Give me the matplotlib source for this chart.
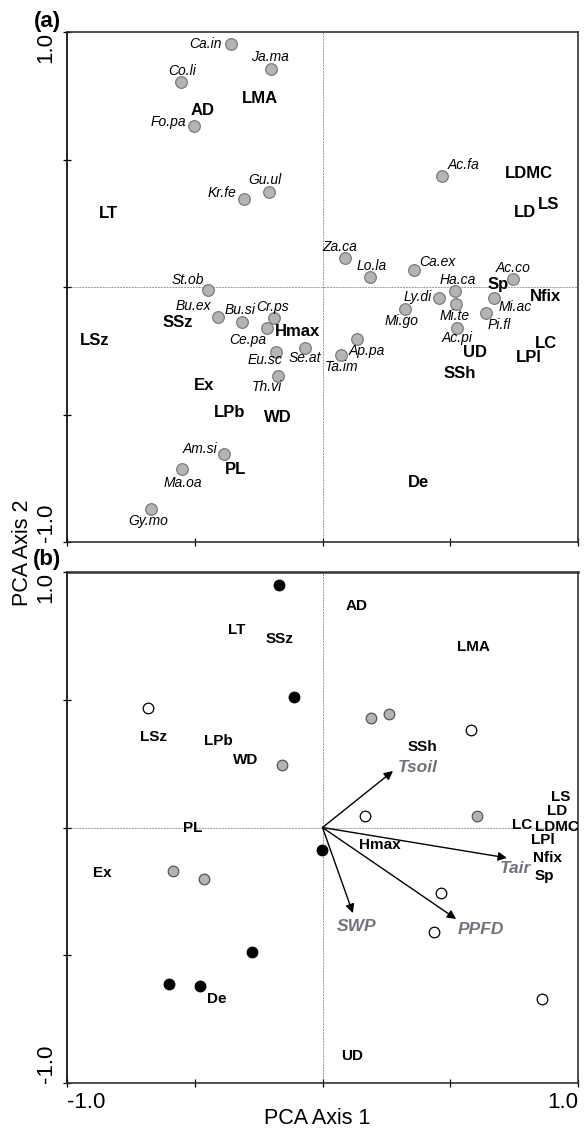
import matplotlib
matplotlib.use('Agg')
import matplotlib.pyplot as plt

plt.rcParams['font.family'] = ['Liberation Sans', 'DejaVu Sans']

# ---- panel (a): species scores ----
sp_names = ['Ca.in', 'Ja.ma', 'Co.li', 'Fo.pa', 'Gu.ul', 'Kr.fe', 'Ac.fa', 'Za.ca',
            'Lo.la', 'Ca.ex', 'Ac.co', 'St.ob', 'Bu.ex', 'Bu.si', 'Cr.ps', 'Ce.pa',
            'Eu.sc', 'Se.at', 'Th.vi', 'Am.si', 'Ma.oa', 'Gy.mo', 'Ha.ca', 'Ly.di',
            'Mi.ac', 'Mi.go', 'Mi.te', 'Pi.fl', 'Ac.pi', 'Ap.pa', 'Ta.im']
sp_x = [-0.358, -0.202, -0.554, -0.503, -0.209, -0.307, 0.468, 0.088,
        0.186, 0.358, 0.746, -0.448, -0.409, -0.315, -0.190, -0.217,
        -0.182, -0.068, -0.174, -0.386, -0.550, -0.671, 0.519, 0.456,
        0.671, 0.323, 0.523, 0.640, 0.526, 0.135, 0.072]
sp_y = [0.953, 0.855, 0.804, 0.631, 0.373, 0.345, 0.435, 0.114,
        0.039, 0.067, 0.031, -0.012, -0.118, -0.137, -0.122, -0.161,
        -0.255, -0.239, -0.349, -0.655, -0.714, -0.871, -0.016, -0.043,
        -0.043, -0.086, -0.067, -0.102, -0.161, -0.204, -0.267]
# label offsets from the point, in pixels
sp_off = [(-26, 0), (-1, 12), (1, 11), (-26, 4), (-4, 12), (-22, 6), (21, 11), (-5, 11),
          (2, 11), (23, 8), (0, 11), (-20, 10), (-25, 11), (-2, 12), (-1, 11), (-19, -12),
          (-11, -8), (0, -10), (-11, -11), (-24, 5), (1, -14), (-3, -12), (3, 11), (-21, 1),
          (21, -9), (-3, -12), (-1, -12), (13, -12), (0, -10), (10, -12), (1, -12)]

trait_a = ['AD', 'LMA', 'LT', 'LDMC', 'LD', 'LS', 'Sp', 'Nfix', 'LSz', 'SSz', 'Hmax',
           'Ex', 'LPb', 'WD', 'PL', 'UD', 'SSh', 'LC', 'LPl', 'De']
trait_a_x = [-0.468, -0.245, -0.839, 0.808, 0.793, 0.883, 0.687, 0.871, -0.890, -0.566, -0.096,
             -0.464, -0.362, -0.174, -0.342, 0.597, 0.538, 0.875, 0.808, 0.374]
trait_a_y = [0.694, 0.741, 0.290, 0.447, 0.294, 0.322, 0.008, -0.039, -0.208, -0.141, -0.176,
             -0.388, -0.494, -0.510, -0.714, -0.255, -0.341, -0.220, -0.275, -0.765]

# ---- panel (b): plot scores, traits and environment ----
black_x = [-0.170, -0.112, -0.002, -0.276, -0.601, -0.479]
black_y = [0.949, 0.511, -0.088, -0.487, -0.613, -0.620]
grey_x = [-0.159, 0.190, 0.260, 0.605, -0.585, -0.464]
grey_y = [0.245, 0.429, 0.444, 0.045, -0.170, -0.202]
white_x = [-0.683, 0.581, 0.166, 0.464, 0.436, 0.859]
white_y = [0.468, 0.382, 0.045, -0.256, -0.409, -0.671]

trait_b = ['AD', 'LMA', 'LT', 'SSz', 'LSz', 'LPb', 'WD', 'SSh', 'LS', 'LD', 'LC', 'LDMC',
           'LPl', 'Nfix', 'Sp', 'PL', 'Ex', 'Hmax', 'De', 'UD']
trait_b_x = [0.135, 0.589, -0.335, -0.170, -0.663, -0.409, -0.299, 0.393, 0.933, 0.918, 0.781, 0.918,
             0.863, 0.879, 0.867, -0.507, -0.860, 0.225, -0.413, 0.115]
trait_b_y = [0.867, 0.706, 0.773, 0.738, 0.354, 0.339, 0.264, 0.315, 0.119, 0.065, 0.010, 0.002,
             -0.049, -0.119, -0.190, -0.002, -0.178, -0.068, -0.671, -0.894]

env_names = ['Tsoil', 'Tair', 'SWP', 'PPFD']
env_x = [0.276, 0.722, 0.119, 0.523]
env_y = [0.221, -0.119, -0.335, -0.358]
env_lab_x = [0.374, 0.753, 0.135, 0.620]
env_lab_y = [0.233, -0.159, -0.389, -0.401]

env_col = '#72727e'

fig = plt.figure(figsize=(5.86, 11.31), dpi=100)
ax1 = fig.add_axes([67 / 586, 1 - 542 / 1131, 511 / 586, 510 / 1131])
ax2 = fig.add_axes([67 / 586, 1 - 1083 / 1131, 511 / 586, 511 / 1131])

for ax in (ax1, ax2):
    ax.set_xlim(-1, 1)
    ax.set_ylim(-1, 1)
    ax.axhline(0, color='#999999', lw=0.7, ls=(0, (2, 1)), zorder=0)
    ax.axvline(0, color='#999999', lw=0.7, ls=(0, (2, 1)), zorder=0)
    ax.set_xticks([-1, -0.5, 0, 0.5, 1])
    ax.set_yticks([-1, -0.5, 0, 0.5, 1])
    ax.set_xticklabels([])
    ax.set_yticklabels([])
    ax.tick_params(direction='inout', length=6, width=0.9)
    for s in ax.spines.values():
        s.set_linewidth(1.2)
        s.set_color('#333333')
    ax.spines['left'].set_color('black')
    ax.text(-0.041, 1.0, '1.0', transform=ax.transAxes, rotation=90,
            ha='center', va='top', fontsize=16)
    ax.text(-0.041, 0.0, '-1.0', transform=ax.transAxes, rotation=90,
            ha='center', va='bottom', fontsize=16)
ax2.spines['top'].set_linewidth(1.8)

# panel a
ax1.scatter(sp_x, sp_y, s=70, c='#b4b4b4', edgecolors='#7a7a7a', linewidths=0.9, zorder=3)
for n, x, y, off in zip(sp_names, sp_x, sp_y, sp_off):
    ax1.annotate(n, (x, y), xytext=off, textcoords='offset pixels',
                 ha='center', va='center', fontsize=10, style='italic')
for n, x, y in zip(trait_a, trait_a_x, trait_a_y):
    ax1.text(x, y, n, ha='center', va='center', fontsize=12, fontweight='bold')

# panel b
ax2.scatter(black_x, black_y, s=58, c='black', edgecolors='black', linewidths=0.9, zorder=3)
ax2.scatter(grey_x, grey_y, s=58, c='#b4b4b4', edgecolors='#555555', linewidths=0.9, zorder=3)
ax2.scatter(white_x, white_y, s=58, c='white', edgecolors='black', linewidths=0.9, zorder=3)
for n, x, y in zip(trait_b, trait_b_x, trait_b_y):
    ax2.text(x, y, n, ha='center', va='center', fontsize=11, fontweight='bold')
for n, x, y, lx, ly in zip(env_names, env_x, env_y, env_lab_x, env_lab_y):
    ax2.annotate('', xy=(x, y), xytext=(0, 0),
                 arrowprops=dict(arrowstyle='-|>', color='black', lw=1.0,
                                 mutation_scale=13, shrinkA=0, shrinkB=0))
    ax2.text(lx, ly, n, ha='center', va='center', fontsize=12.5,
             fontweight='bold', style='italic', color=env_col)

ax2.text(0.0, -0.039, '-1.0', transform=ax2.transAxes, ha='left', va='center', fontsize=16)
ax2.text(1.0, -0.039, '1.0', transform=ax2.transAxes, ha='right', va='center', fontsize=16)

fig.text(317 / 586, 1 - 1118 / 1131, 'PCA Axis 1', ha='center', va='center', fontsize=15.5)
fig.text(22 / 586, 1 - 553 / 1131, 'PCA Axis 2', ha='center', va='center',
         rotation=90, fontsize=15.5)
fig.text(47 / 586, 1 - 21 / 1131, '(a)', ha='center', va='center', fontsize=16, fontweight='bold')
fig.text(47 / 586, 1 - 559 / 1131, '(b)', ha='center', va='center', fontsize=16, fontweight='bold')

fig.savefig('out.png', dpi=100)
